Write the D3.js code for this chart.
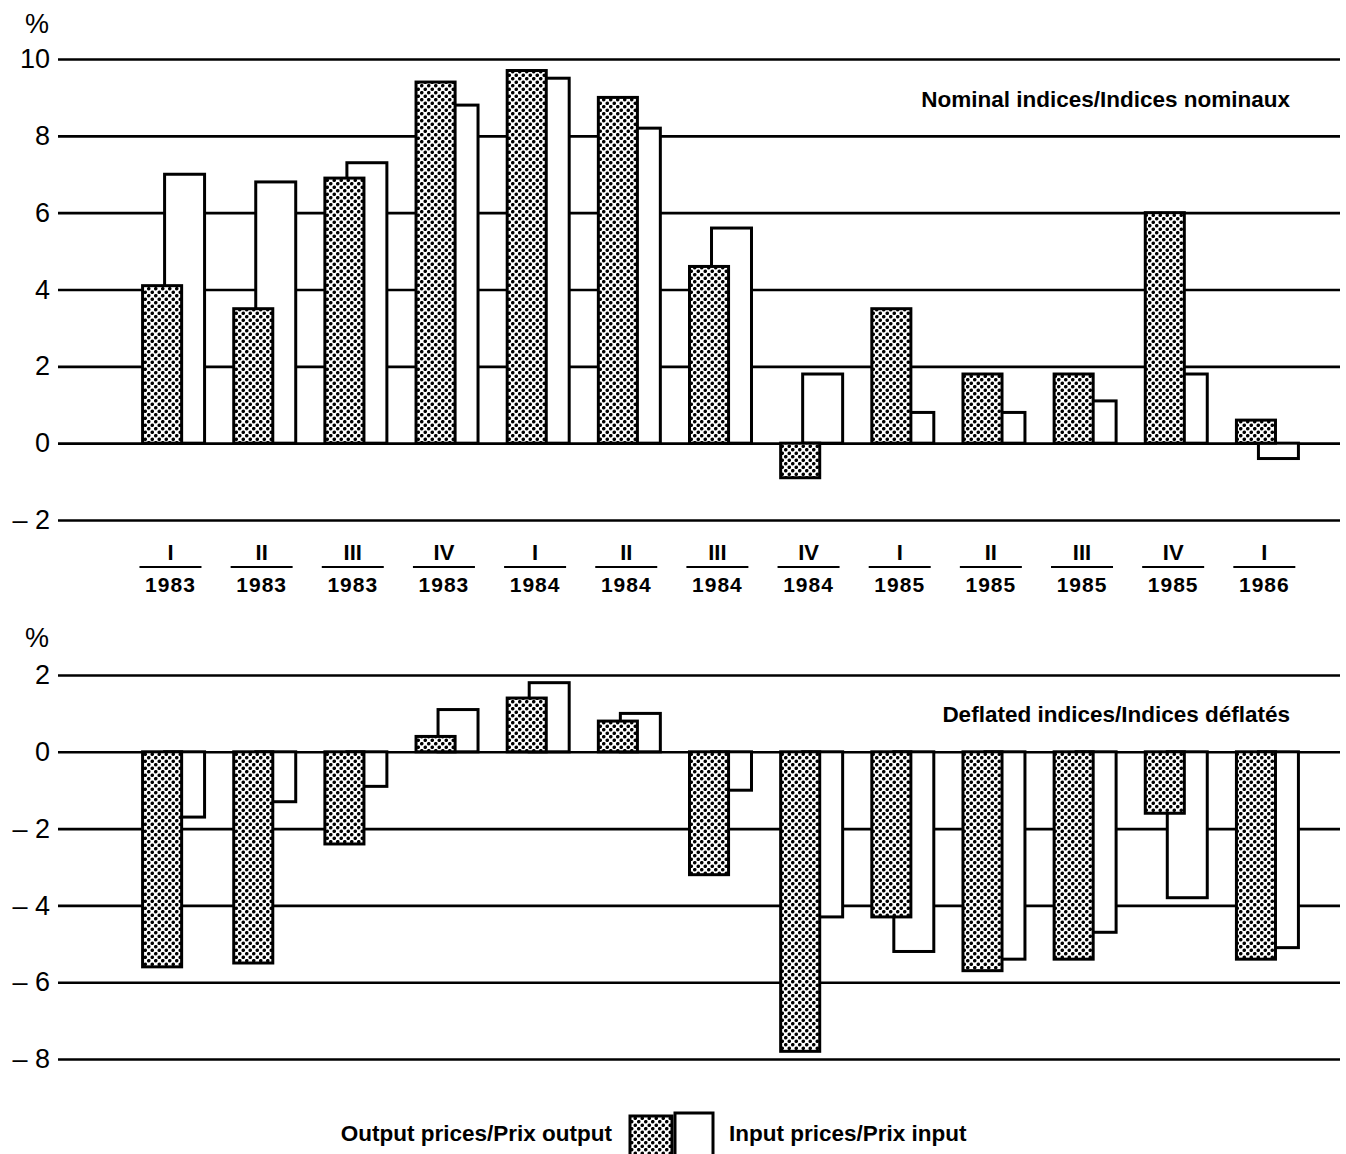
<!DOCTYPE html>
<html>
<head>
<meta charset="utf-8">
<script src="https://cdn.jsdelivr.net/npm/d3@7"></script>
<style>
  html, body { margin: 0; padding: 0; background: #fff; }
  svg { display: block; }
  text { fill: #000; }
</style>
</head>
<body>
<svg id="chart" width="1346" height="1154"></svg>
<script>
// ---------- data ----------
const quarters = ["I","II","III","IV","I","II","III","IV","I","II","III","IV","I"];
const years    = ["1983","1983","1983","1983","1984","1984","1984","1984","1985","1985","1985","1985","1986"];

const nominalOutput = [4.1, 3.5, 6.9, 9.4, 9.7, 9.0, 4.6, -0.9, 3.5, 1.8, 1.8, 6.0, 0.6];
const nominalInput  = [7.0, 6.8, 7.3, 8.8, 9.5, 8.2, 5.6, 1.8, 0.8, 0.8, 1.1, 1.8, -0.4];

const deflatedOutput = [-5.6, -5.5, -2.4, 0.4, 1.4, 0.8, -3.2, -7.8, -4.3, -5.7, -5.4, -1.6, -5.4];
const deflatedInput  = [-1.7, -1.3, -0.9, 1.1, 1.8, 1.0, -1.0, -4.3, -5.2, -5.4, -4.7, -3.8, -5.1];

const nominalTicks  = [-2, 0, 2, 4, 6, 8, 10];
const deflatedTicks = [-8, -6, -4, -2, 0, 2];

const nominalTitle  = "Nominal indices/Indices nominaux";
const deflatedTitle = "Deflated indices/Indices déflatés";
const legendOutput  = "Output prices/Prix output";
const legendInput   = "Input prices/Prix input";

// ---------- setup ----------
const svg = d3.select("#chart");
svg.append("rect").attr("width", 1346).attr("height", 1154).attr("fill", "#fff");

const defs = svg.append("defs");
const pat = defs.append("pattern")
  .attr("id", "dots").attr("patternUnits", "userSpaceOnUse")
  .attr("width", 7).attr("height", 7);
pat.append("rect").attr("width", 7).attr("height", 7).attr("fill", "#fff");
pat.append("circle").attr("cx", 1.75).attr("cy", 1.75).attr("r", 1.8).attr("fill", "#000");
pat.append("circle").attr("cx", 5.25).attr("cy", 5.25).attr("r", 1.8).attr("fill", "#000");

const keys = quarters.map((q, i) => i + "|" + q + " " + years[i]);

const gridLeft = 58, gridRight = 1340;

const x = d3.scaleBand()
  .domain(keys)
  .range([128, 1313])
  .paddingInner(0.32)
  .paddingOuter(0.16);

const bw = x.bandwidth();          // full group width
const outW = bw * 0.63;            // output bar width
const inOff = bw * 0.355;          // input bar offset
const inW = bw * 0.645;            // input bar width

const FONT = "'Liberation Sans', Arial, Helvetica, sans-serif";
const NARROW = "'Liberation Sans Narrow', 'Arial Narrow', 'Liberation Sans', sans-serif";

function fmtTick(d) {
  return d < 0 ? "\u2013 " + Math.abs(d) : String(d);
}

function panel(y, ticks, outVals, inVals, title, titleY, pctY) {
  const g = svg.append("g");

  const axis = d3.axisLeft(y)
    .tickValues(ticks)
    .tickSize(-(gridRight - gridLeft))
    .tickPadding(8)
    .tickFormat(fmtTick);

  const ag = g.append("g")
    .attr("transform", `translate(${gridLeft},0)`)
    .call(axis);
  ag.select(".domain").remove();
  ag.selectAll(".tick line")
    .attr("stroke", "#000")
    .attr("stroke-width", 2.6);
  ag.selectAll(".tick text")
    .attr("font-family", FONT)
    .attr("font-size", 27)
    .attr("fill", "#000");

  g.append("text")
    .attr("x", 25).attr("y", pctY)
    .attr("font-family", FONT).attr("font-size", 27)
    .text("%");

  g.selectAll(".inbar").data(inVals).join("rect")
    .attr("class", "inbar")
    .attr("x", (d, i) => x(keys[i]) + inOff)
    .attr("width", inW)
    .attr("y", d => Math.min(y(d), y(0)))
    .attr("height", d => Math.abs(y(d) - y(0)))
    .attr("fill", "#fff")
    .attr("stroke", "#000")
    .attr("stroke-width", 3);

  g.selectAll(".outbar").data(outVals).join("rect")
    .attr("class", "outbar")
    .attr("x", (d, i) => x(keys[i]))
    .attr("width", outW)
    .attr("y", d => Math.min(y(d), y(0)))
    .attr("height", d => Math.abs(y(d) - y(0)))
    .attr("fill", "url(#dots)")
    .attr("stroke", "#000")
    .attr("stroke-width", 3);

  g.append("text")
    .attr("x", 1290).attr("y", titleY)
    .attr("text-anchor", "end")
    .attr("font-family", FONT).attr("font-weight", "bold")
    .attr("font-size", 22.5)
    .text(title);
}

const yTop = d3.scaleLinear().domain([-2, 10]).range([520, 59]);
const yBot = d3.scaleLinear().domain([-8, 2]).range([1059, 675]);

panel(yTop, nominalTicks, nominalOutput, nominalInput, nominalTitle, 107, 33);
panel(yBot, deflatedTicks, deflatedOutput, deflatedInput, deflatedTitle, 722, 647);

// ---------- x labels (top panel only) ----------
const lab = svg.append("g").selectAll("g").data(keys).join("g")
  .attr("transform", k => `translate(${x(k) + bw * 0.45},0)`);

lab.append("text")
  .attr("y", 560)
  .attr("text-anchor", "middle")
  .attr("font-family", NARROW)
  .attr("font-weight", "bold")
  .attr("font-size", 22)
  .text((k, i) => quarters[i]);

lab.append("line")
  .attr("x1", -31).attr("x2", 31)
  .attr("y1", 567).attr("y2", 567)
  .attr("stroke", "#000").attr("stroke-width", 2.2);

lab.append("text")
  .attr("y", 592)
  .attr("text-anchor", "middle")
  .attr("font-family", FONT)
  .attr("font-size", 21)
  .attr("font-weight", "bold")
  .attr("letter-spacing", 1)
  .text((k, i) => years[i]);

// ---------- legend ----------
const leg = svg.append("g");
leg.append("text")
  .attr("x", 612).attr("y", 1141)
  .attr("text-anchor", "end")
  .attr("font-family", FONT).attr("font-weight", "bold").attr("font-size", 22.5)
  .text(legendOutput);
leg.append("rect")
  .attr("x", 630).attr("y", 1116).attr("width", 42).attr("height", 44)
  .attr("fill", "url(#dots)").attr("stroke", "#000").attr("stroke-width", 3);
leg.append("rect")
  .attr("x", 675).attr("y", 1113).attr("width", 38).attr("height", 47)
  .attr("fill", "#fff").attr("stroke", "#000").attr("stroke-width", 3);
leg.append("text")
  .attr("x", 729).attr("y", 1141)
  .attr("font-family", FONT).attr("font-weight", "bold").attr("font-size", 22.5)
  .text(legendInput);
</script>
</body>
</html>
